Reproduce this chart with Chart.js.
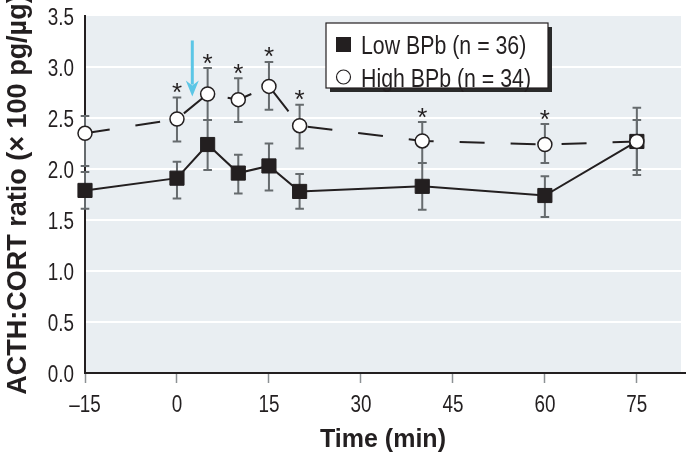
<!DOCTYPE html>
<html>
<head>
<meta charset="utf-8">
<script src="https://cdn.jsdelivr.net/npm/chart.js@4/dist/chart.umd.min.js"></script>
<style>
html,body{margin:0;padding:0;background:#ffffff;}
canvas{display:block;}
</style>
</head>
<body>
<canvas id="c" width="686" height="461"></canvas>
<script>
// ---- data ----
const times = [-15, 0, 5, 10, 15, 20, 40, 60, 75];
const lowLabel = 'Low BPb (n = 36)';
const highLabel = 'High BPb (n = 34)';
const lowMean  = [1.79, 1.91, 2.24, 1.96, 2.03, 1.78, 1.83, 1.74, 2.27];
const lowUpper = [1.97, 2.07, 2.48, 2.14, 2.25, 1.95, 2.06, 1.93, 2.60];
const lowLower = [1.61, 1.71, 1.99, 1.76, 1.79, 1.61, 1.60, 1.53, 1.94];
const highMean  = [2.35, 2.49, 2.735, 2.68, 2.81, 2.425, 2.275, 2.24, 2.27];
const highUpper = [2.52, 2.70, 2.99, 2.89, 3.05, 2.63, 2.46, 2.44, 2.48];
const highLower = [2.03, 2.27, 2.48, 2.46, 2.58, 2.20, 2.06, 2.06, 1.99];
const significant = [false, true, true, true, true, true, true, true, false];
const xTickValues = [-15, 0, 15, 30, 45, 60, 75];
const yTickValues = [0, 0.5, 1.0, 1.5, 2.0, 2.5, 3.0, 3.5];
const arrowTime = 2.5, arrowFrom = 3.26, arrowTo = 2.71;
const xTitle = 'Time (min)';
const yTitle = 'ACTH:CORT ratio (\u00D7 100 pg/\u00B5g)';

const INK = '#231f20';
const SANS = "'Liberation Sans', Arial, sans-serif";
const NARROW_SCALE = 0.82; // emulate a condensed face

function narrowText(ctx, text, x, y, size, align) {
  ctx.save();
  ctx.font = size + 'px ' + SANS;
  ctx.textAlign = align;
  ctx.textBaseline = 'alphabetic';
  ctx.scale(NARROW_SCALE, 1);
  ctx.fillText(text, x / NARROW_SCALE, y);
  ctx.restore();
}

const xLabel = v => (v < 0 ? '\u2013' + Math.abs(v) : String(v));
const yLabel = v => Number(v).toFixed(1);

const errorBars = {
  id: 'errorBars',
  beforeDatasetsDraw(chart) {
    const {ctx, scales: {x, y}} = chart;
    ctx.save();
    ctx.strokeStyle = '#666b6e';
    ctx.lineWidth = 2;
    const sets = [[lowUpper, lowLower], [highUpper, highLower]];
    sets.forEach(([up, lo]) => {
      times.forEach((t, i) => {
        if (up[i] == null) return;
        const px = x.getPixelForValue(t);
        const y1 = y.getPixelForValue(up[i]);
        const y2 = y.getPixelForValue(lo[i]);
        ctx.beginPath();
        ctx.moveTo(px, y1); ctx.lineTo(px, y2);
        ctx.moveTo(px - 4.3, y1); ctx.lineTo(px + 4.3, y1);
        ctx.moveTo(px - 4.3, y2); ctx.lineTo(px + 4.3, y2);
        ctx.stroke();
      });
    });
    ctx.restore();
  }
};

const plotBg = {
  id: 'plotBg',
  beforeDraw(chart) {
    const {ctx, chartArea: a} = chart;
    ctx.save();
    ctx.fillStyle = '#e9eef2';
    ctx.fillRect(a.left, a.top, a.right - a.left, a.bottom - a.top);
    ctx.restore();
  }
};

const tickLabels = {
  id: 'tickLabels',
  afterDraw(chart) {
    const {ctx, chartArea: a, scales: {x, y}} = chart;
    ctx.save();
    // axis line runs on to the page edge
    ctx.strokeStyle = INK;
    ctx.lineWidth = 2;
    ctx.beginPath();
    ctx.moveTo(a.right - 1, a.bottom);
    ctx.lineTo(chart.width, a.bottom);
    ctx.stroke();
    ctx.fillStyle = INK;
    x.ticks.forEach(t => {
      narrowText(ctx, xLabel(t.value), x.getPixelForValue(t.value), a.bottom + 38.5, 23, 'center');
    });
    y.ticks.forEach(t => {
      narrowText(ctx, yLabel(t.value), a.left - 11, y.getPixelForValue(t.value) + 9, 23, 'right');
    });
    ctx.restore();
  }
};

const annotations = {
  id: 'annotations',
  afterDatasetsDraw(chart) {
    const {ctx, chartArea: a, scales: {x, y}} = chart;
    ctx.save();
    // asterisks
    ctx.fillStyle = INK;
    ctx.font = "26px " + SANS;
    ctx.textAlign = 'center';
    ctx.textBaseline = 'alphabetic';
    const m = ctx.measureText('*');
    const midOff = (m.actualBoundingBoxAscent - m.actualBoundingBoxDescent) / 2;
    times.forEach((t, i) => {
      if (!significant[i]) return;
      const px = x.getPixelForValue(t);
      const py = y.getPixelForValue(highUpper[i]) - 9.5;
      ctx.fillText('*', px, py + midOff);
    });
    // arrow
    const ax = x.getPixelForValue(arrowTime);
    const ay1 = y.getPixelForValue(arrowFrom);
    const ay2 = y.getPixelForValue(arrowTo);
    ctx.strokeStyle = '#5cc6e6';
    ctx.fillStyle = '#5cc6e6';
    ctx.lineWidth = 3;
    ctx.beginPath();
    ctx.moveTo(ax, ay1); ctx.lineTo(ax, ay2 - 12);
    ctx.stroke();
    ctx.beginPath();
    ctx.moveTo(ax - 6.5, ay2 - 16);
    ctx.lineTo(ax, ay2 - 11);
    ctx.lineTo(ax + 6.5, ay2 - 16);
    ctx.lineTo(ax, ay2);
    ctx.closePath();
    ctx.fill();

    // legend
    const lx = a.left + 241, ly = a.top + 7, lw = 222, lh = 65;
    ctx.fillStyle = '#2a2a2a';
    ctx.fillRect(lx + 4, ly + 4, lw, lh);
    ctx.fillStyle = '#ffffff';
    ctx.fillRect(lx, ly, lw, lh);
    ctx.strokeStyle = INK;
    ctx.lineWidth = 1.2;
    ctx.strokeRect(lx, ly, lw, lh);
    const ds = chart.data.datasets;
    const items = [ds[1], ds[0]];
    const rows = [ly + 21.5, ly + 54];
    items.forEach((d, k) => {
      const cy = rows[k];
      const cx = lx + 17.5;
      if (d.pointStyle === 'rect') {
        ctx.fillStyle = INK;
        ctx.fillRect(cx - 7.5, cy - 7.5, 15, 15);
      } else {
        ctx.beginPath();
        ctx.arc(cx, cy, 7, 0, Math.PI * 2);
        ctx.fillStyle = '#fff';
        ctx.fill();
        ctx.lineWidth = 1.2;
        ctx.strokeStyle = INK;
        ctx.stroke();
      }
      ctx.fillStyle = INK;
      narrowText(ctx, d.label, lx + 35, cy + 9.5, 26, 'left');
    });
    ctx.restore();
  }
};

new Chart(document.getElementById('c'), {
  type: 'line',
  data: {
    datasets: [
      {
        label: highLabel,
        data: times.map((t, i) => ({x: t, y: highMean[i]})),
        borderColor: INK,
        borderWidth: 2,
        borderDash: [25, 26],
        pointStyle: 'circle',
        pointRadius: 7,
        pointBorderWidth: 1.5,
        pointBackgroundColor: '#ffffff',
        pointBorderColor: INK,
        tension: 0,
        clip: false
      },
      {
        label: lowLabel,
        data: times.map((t, i) => ({x: t, y: lowMean[i]})),
        borderColor: INK,
        borderWidth: 2,
        pointStyle: 'rect',
        pointRadius: 10,
        pointBorderWidth: 1,
        pointBackgroundColor: INK,
        pointBorderColor: INK,
        tension: 0,
        clip: false
      }
    ]
  },
  options: {
    responsive: false,
    animation: false,
    devicePixelRatio: 1,
    layout: {autoPadding: false, padding: {left: 0, right: 5, top: 16, bottom: 0}},
    plugins: {legend: {display: false}, tooltip: {enabled: false}},
    scales: {
      x: {
        type: 'linear',
        min: -15,
        max: 82.2,
        afterBuildTicks(scale) { scale.ticks = xTickValues.map(v => ({value: v})); },
        afterFit(scale) { scale.height = 88; },
        border: {display: true, color: INK, width: 2},
        grid: {drawOnChartArea: false, drawTicks: true, tickLength: 10, tickColor: '#8c9194', tickWidth: 1.5, color: '#8c9194'},
        ticks: {display: false},
        title: {
          display: true,
          text: xTitle,
          color: INK,
          font: {family: SANS, size: 25, weight: 'bold'},
          padding: {top: 0, bottom: 6}
        }
      },
      y: {
        min: 0,
        max: 3.5,
        afterBuildTicks(scale) { scale.ticks = yTickValues.map(v => ({value: v})); },
        afterFit(scale) { scale.width = 85; },
        border: {display: true, color: INK, width: 2},
        grid: {
          drawTicks: false,
          lineWidth: 2,
          color: c => (c.tick && (c.tick.value === 3.5 || c.tick.value === 0)) ? 'rgba(0,0,0,0)' : '#ffffff'
        },
        ticks: {display: false},
        title: {
          display: true,
          text: yTitle,
          color: INK,
          font: {family: SANS, size: 27, weight: 'bold'},
          padding: {top: 2, bottom: 0}
        }
      }
    }
  },
  plugins: [plotBg, errorBars, tickLabels, annotations]
});
</script>
</body>
</html>
